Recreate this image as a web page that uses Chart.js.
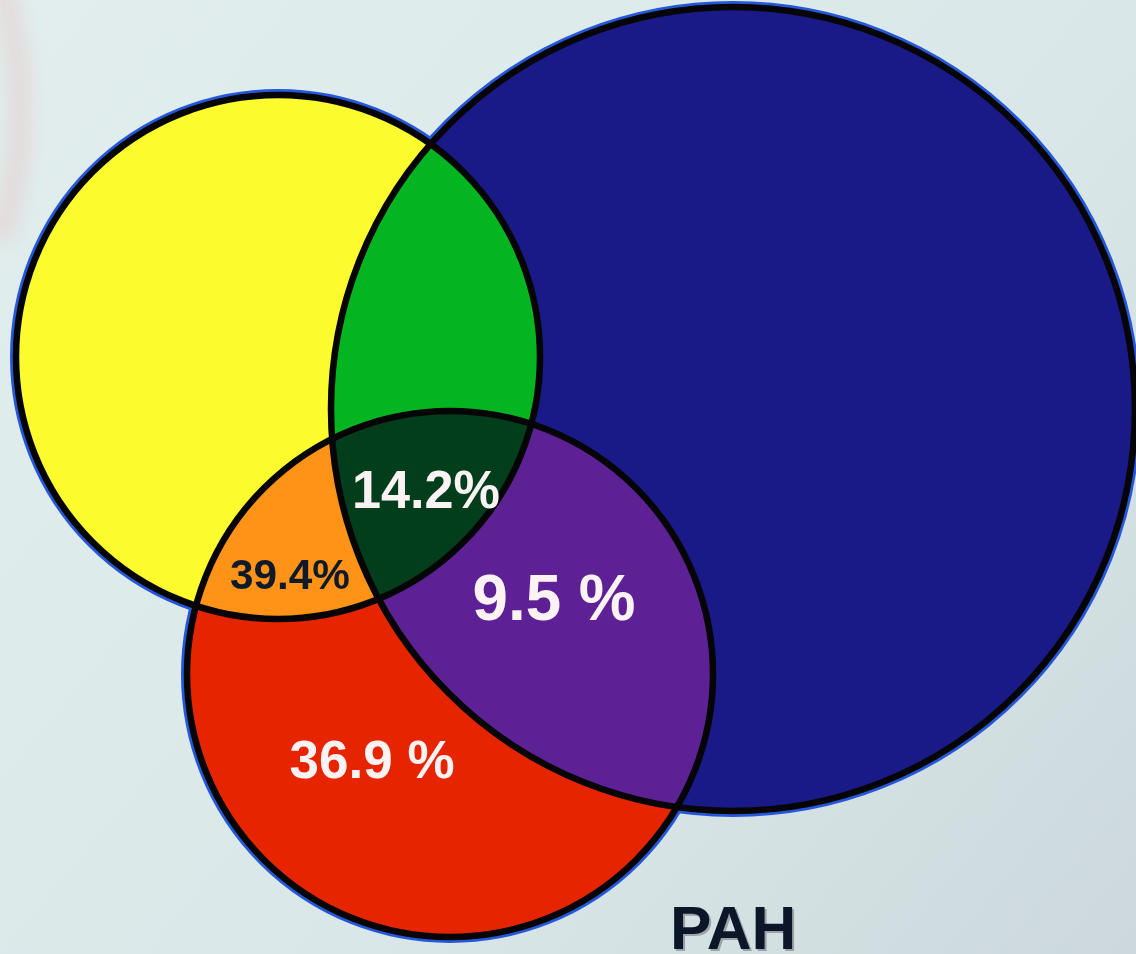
<!DOCTYPE html>
<html>
<head>
<meta charset="utf-8">
<script src="https://cdn.jsdelivr.net/npm/chart.js@4"></script>
<style>
  html, body { margin: 0; padding: 0; background: #dde9ea; }
  canvas { display: block; }
</style>
</head>
<body>
<canvas id="venn" width="1136" height="954"></canvas>
<script>
// circles (data units = picture units): yellow set, PAH (blue), red set
const circleNames = ['A', 'PAH', 'B'];
const circleX = [278, 733, 450];
const circleY = [357, 409, 674];
const circleR = [262, 402, 263];
const circleColors = ['#fbfb2e', '#191987', '#e62400'];

// overlap colours, keyed by the circles they belong to
const pairKeys = [[0, 1], [0, 2], [1, 2]];
const pairColors = ['#03b520', '#ff9318', '#5e2195'];
const tripleColor = '#023e1c';

// percentage labels
const labelTexts = ['39.4%', '14.2%', '9.5 %', '36.9 %'];
const labelValues = [39.4, 14.2, 9.5, 36.9];
const labelX = [290, 426, 554, 372];
const labelY = [589, 508, 620, 778];
const labelSize = [43, 54, 64, 53];
const labelWidth = [120, 148, 163, 166];
const labelColors = ['#0e1a2a', '#fbf3f3', '#fbf3f3', '#fbf3f3'];

const setTitle = 'PAH';

const vennPlugin = {
    id: 'venn',
    beforeDraw(chart) {
        const c = chart.ctx;
        const w = chart.width, h = chart.height;
        const g = c.createLinearGradient(0, 0, w, h);
        g.addColorStop(0, '#e2eeee');
        g.addColorStop(0.6, '#dae7e8');
        g.addColorStop(1, '#ccd8dc');
        c.save();
        c.fillStyle = g;
        c.fillRect(0, 0, w, h);
        // faint pink band at the left border
        c.filter = 'blur(10px)';
        c.strokeStyle = 'rgba(235,170,170,0.35)';
        c.lineWidth = 18;
        c.beginPath();
        c.arc(-420, 110, 440, -0.45, 0.3);
        c.stroke();
        c.restore();
    },
    afterDatasetsDraw(chart) {
        const c = chart.ctx;
        const xs = chart.scales.x, ys = chart.scales.y;
        const circ = circleX.map((x, i) => ({
            x: xs.getPixelForValue(x),
            y: ys.getPixelForValue(circleY[i]),
            r: xs.getPixelForValue(x + circleR[i]) - xs.getPixelForValue(x)
        }));
        const path = (k, extra) => {
            c.beginPath();
            c.arc(circ[k].x, circ[k].y, circ[k].r + (extra || 0), 0, Math.PI * 2);
        };

        c.save();
        // thin blue rim outside
        circ.forEach((p, k) => {
            path(k, 2);
            c.strokeStyle = '#2458d8';
            c.lineWidth = 8;
            c.stroke();
        });
        // base fills
        circ.forEach((p, k) => {
            path(k);
            c.fillStyle = circleColors[k];
            c.fill();
        });
        // pair overlaps
        pairKeys.forEach((pk, i) => {
            c.save();
            path(pk[0]);
            c.clip();
            path(pk[1]);
            c.fillStyle = pairColors[i];
            c.fill();
            c.restore();
        });
        // triple overlap
        c.save();
        path(0); c.clip();
        path(1); c.clip();
        path(2);
        c.fillStyle = tripleColor;
        c.fill();
        c.restore();
        // black outlines
        circ.forEach((p, k) => {
            path(k);
            c.strokeStyle = '#050505';
            c.lineWidth = 6.5;
            c.stroke();
        });

        // labels
        c.textAlign = 'center';
        c.textBaseline = 'alphabetic';
        labelTexts.forEach((t, i) => {
            c.font = 'bold ' + labelSize[i] + 'px "Liberation Sans", Arial, sans-serif';
            c.fillStyle = labelColors[i];
            c.fillText(t, xs.getPixelForValue(labelX[i]), ys.getPixelForValue(labelY[i]), labelWidth[i]);
        });

        // set name
        c.textAlign = 'left';
        c.font = 'bold 62px "Liberation Sans", Arial, sans-serif';
        c.fillStyle = 'rgba(120,120,130,0.6)';
        c.fillText(setTitle, xs.getPixelForValue(672), ys.getPixelForValue(951));
        c.fillStyle = '#0b1628';
        c.fillText(setTitle, xs.getPixelForValue(670), ys.getPixelForValue(949));
        c.restore();
    }
};

const ctx = document.getElementById('venn').getContext('2d');

const grafico = new Chart(ctx, {
    type: 'scatter',
    data: {
        datasets: [{
            label: 'centros',
            data: circleX.map((x, i) => ({ x: x, y: circleY[i] })),
            pointRadius: 0,
            pointHoverRadius: 0
        }]
    },
    options: {
        responsive: false,
        animation: false,
        events: [],
        layout: { padding: 0 },
        scales: {
            x: { type: 'linear', min: 0, max: 1136, display: false },
            y: { type: 'linear', min: 0, max: 954, reverse: true, display: false }
        },
        plugins: {
            legend: { display: false },
            tooltip: { enabled: false }
        }
    },
    plugins: [vennPlugin]
});
</script>
</body>
</html>
